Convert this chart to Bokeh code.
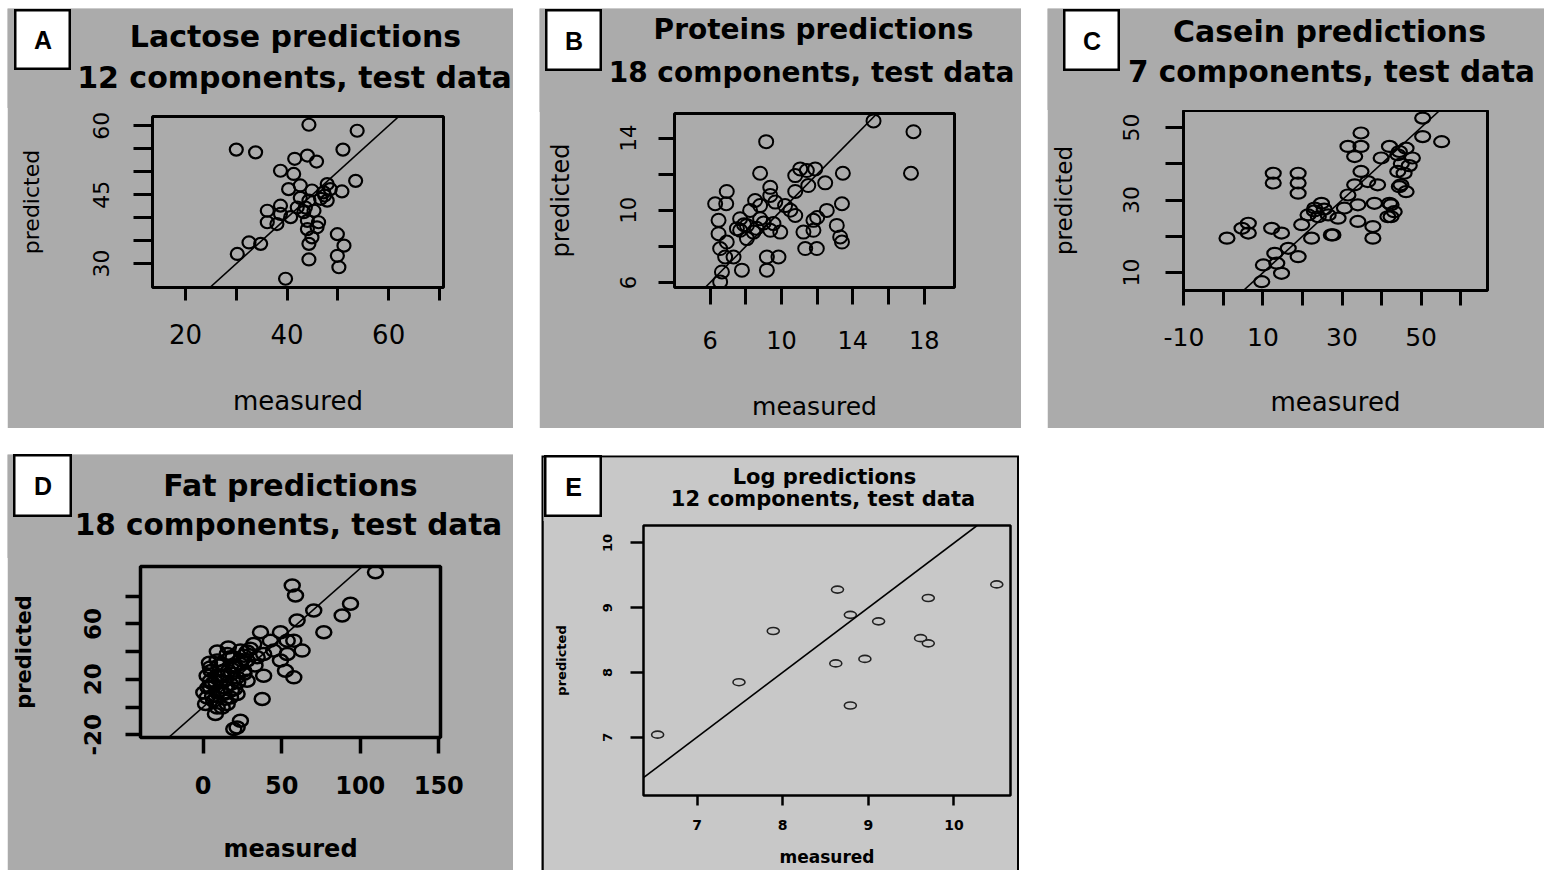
from bokeh.plotting import figure
from bokeh.models import Range1d, FixedTicker, Label, Slope
from bokeh.embed import file_html
from bokeh.resources import INLINE

# ---------------- data: measured vs predicted on the test set ----------------
lactose_measured = [44.3, 53.8, 30.0, 33.8, 51.0, 41.5, 44.0, 45.8, 38.7, 41.3, 53.5, 40.3,
                    42.6, 47.9, 50.8, 47.2, 44.9, 46.6, 44.3, 38.7, 36.1, 38.7, 40.7, 43.3,
                    36.1, 38.0, 44.0, 46.2, 44.0, 44.9, 49.9, 44.3, 51.2, 32.5, 34.8, 30.2,
                    44.3, 49.9, 50.2, 39.7, 47.4, 47.9, 42.0, 43.6, 45.3, 45.9, 48.5, 42.6]
lactose_predicted = [60.2, 58.9, 54.8, 54.2, 54.8, 52.8, 53.5, 52.2, 50.2, 49.5, 48.0, 46.2,
                     47.0, 47.3, 45.7, 45.5, 45.9, 44.1, 43.7, 42.6, 41.5, 40.8, 40.1, 41.2,
                     39.0, 38.6, 39.3, 39.0, 37.5, 35.7, 36.4, 34.3, 33.9, 34.6, 34.3, 32.1,
                     30.9, 31.7, 29.2, 26.7, 44.8, 43.7, 42.2, 42.2, 41.5, 37.9, 46.2, 44.3]

protein_measured = [15.16, 17.4, 9.14, 8.8, 13.44, 17.26, 10.77, 11.42, 11.89, 12.45, 11.5, 9.37,
                    10.77, 6.93, 6.28, 6.9, 8.52, 8.8, 9.65, 10.2, 13.39, 12.54, 10.77, 8.24,
                    6.47, 7.68, 8.8, 9.55, 11.79, 6.47, 7.68, 8.43, 9.37, 9.93, 11.23, 11.79,
                    13.1, 13.29, 13.39, 6.93, 8.06, 11.33, 11.98, 6.84, 7.31, 9.18, 9.83, 7.78,
                    9.18, 6.66, 6.56, 7.5, 8.06, 9.37, 11.05, 6.56, 7.9, 8.6, 9.0, 12.0, 10.5]
protein_predicted = [14.95, 14.35, 13.8, 12.05, 12.05, 12.05, 11.92, 12.2, 12.29, 11.52, 11.37, 11.27,
                     11.04, 11.04, 10.36, 10.36, 10.54, 10.26, 10.45, 10.26, 10.36, 9.99, 9.71, 9.99,
                     9.44, 9.53, 9.53, 9.26, 9.44, 8.7, 8.89, 8.79, 8.89, 8.79, 8.79, 8.89,
                     9.16, 8.52, 8.24, 8.24, 8.43, 7.88, 7.88, 7.41, 7.41, 7.41, 7.41, 6.68,
                     6.68, 6.58, 6.03, 8.98, 9.16, 10.82, 12.29, 7.88, 9.2, 9.0, 9.3, 9.6, 10.0]

casein_measured = [34.8, 31.5, 34.8, 33.2, 42.0, 39.9, 44.1, 46.2, 12.6, 12.6, 18.9, 18.9,
                   18.9, 34.8, 36.5, 33.2, 39.0, 44.1, 44.9, 31.5, 34.0, 30.6, 38.2, 42.4,
                   43.2, 41.6, 24.8, 21.4, 24.0, 26.5, 29.0, 34.0, 37.8, 37.8, 19.8, 22.3,
                   27.7, 0.9, 6.3, 6.3, 12.2, 14.7, 16.4, 18.9, 13.0, 10.1, 13.5, 14.7,
                   9.7, 4.7, 23.1, 50.4, 50.4, 55.2, 47.8, 44.5, 45.7, 46.2, 44.5, 42.0,
                   42.4, 27.3, 23.0, 25.5, 45.0, 47.0]
casein_predicted = [48.5, 44.8, 44.8, 42.0, 44.8, 41.6, 42.5, 44.3, 37.4, 34.7, 37.4, 34.7,
                    31.9, 37.9, 35.1, 34.2, 34.2, 37.9, 34.2, 31.4, 28.7, 27.8, 29.1, 28.7,
                    26.8, 25.4, 29.1, 25.9, 25.4, 25.9, 25.0, 24.1, 22.7, 19.5, 23.2, 19.5,
                    20.4, 19.5, 23.6, 20.9, 22.2, 20.9, 16.7, 14.4, 15.3, 12.1, 12.6, 9.8,
                    7.5, 22.2, 27.8, 52.6, 47.5, 46.1, 41.6, 43.4, 37.4, 32.3, 33.7, 29.1,
                    25.4, 20.4, 27.0, 27.5, 40.0, 39.5]

fat_measured = [109.7, 56.7, 58.8, 93.8, 88.5, 70.4, 59.8, 76.8, 36.5, 49.2, 53.5, 63.0,
                38.5, 23.7, 17.4, 49.2, 38.5, 57.7, 52.4, 4.6, 13.1, 4.6, 21.6, 8.9,
                2.5, 17.4, 12.1, 37.6, 7.8, 23.7, 21.6, 8.9, 15.3, 19.5, 23.7, 28.0,
                2.5, 11.0, 17.4, 4.6, 13.1, 21.6, 0.4, 6.7, 15.3, 1.5, 32.2, 42.8,
                44.9, 53.5, 57.7, 34.4, 25.8, 28.0, 8.9, 19.5, 12.0, 18.0, 9.0, 20.0,
                6.0, 26.0, 16.0, 30.0, 5.0, 14.0, 3.0, 8.0, 12.0, 16.0, 20.0, 24.0,
                10.0, 6.0, 14.0, 18.0, 22.0, 26.0, 9.0, 4.0, 28.0, 33.0, 11.0, 19.0]
fat_predicted = [97.3, 87.7, 80.5, 74.5, 66.0, 69.6, 62.4, 53.9, 53.9, 53.9, 47.9, 40.7,
                 38.3, 40.7, 35.9, 33.5, 22.6, 21.4, 26.2, 28.6, 26.2, 19.0, 21.4, 10.5,
                 6.9, 6.9, -0.3, 5.8, -5.1, -9.9, -14.8, 33.5, 38.3, 28.6, 31.1, 33.5,
                 22.6, 19.0, 16.6, 14.2, 9.4, 9.4, 10.5, 4.5, 2.2, 2.2, 45.5, 47.9,
                 40.7, 38.3, 47.9, 35.9, 26.2, 19.0, -0.3, -15.9, 31.0, 24.0, 23.0, 13.0,
                 17.0, 37.0, 43.0, 42.0, 26.0, 14.0, 14.0, 18.0, 22.0, 26.0, 30.0, 34.0,
                 30.0, 8.0, 6.0, 12.0, 18.0, 24.0, 40.0, 32.0, 40.0, 30.0, 12.0, 36.0]

log_measured = [6.54, 7.49, 7.89, 8.64, 8.62, 8.79, 8.79, 8.96, 9.12, 9.61, 9.70, 9.70, 10.50]
log_predicted = [7.04, 7.85, 8.64, 9.28, 8.14, 8.89, 7.49, 8.21, 8.79, 8.53, 8.45, 9.15, 9.36]

# ---------------- panel texts, data and ticks ----------------
panels = [
    dict(key="A", title=["Lactose predictions", "12 components, test data"],
         x=lactose_measured, y=lactose_predicted,
         xticks=[20, 30, 40, 50, 60, 70], xlabels=[20, 40, 60],
         yticks=[30, 35, 40, 45, 50, 55, 60], ylabels=[30, 45, 60]),
    dict(key="B", title=["Proteins predictions", "18 components, test data"],
         x=protein_measured, y=protein_predicted,
         xticks=[6, 8, 10, 12, 14, 16, 18], xlabels=[6, 10, 14, 18],
         yticks=[6, 8, 10, 12, 14], ylabels=[6, 10, 14]),
    dict(key="C", title=["Casein predictions", "7 components, test data"],
         x=casein_measured, y=casein_predicted,
         xticks=[-10, 0, 10, 20, 30, 40, 50, 60], xlabels=[-10, 10, 30, 50],
         yticks=[10, 20, 30, 40, 50], ylabels=[10, 30, 50]),
    dict(key="D", title=["Fat predictions", "18 components, test data"],
         x=fat_measured, y=fat_predicted,
         xticks=[0, 50, 100, 150], xlabels=[0, 50, 100, 150],
         yticks=[-20, 0, 20, 40, 60, 80], ylabels=[-20, 20, 60]),
    dict(key="E", title=["Log predictions", "12 components, test data"],
         x=log_measured, y=log_predicted,
         xticks=[7, 8, 9, 10], xlabels=[7, 8, 9, 10],
         yticks=[7, 8, 9, 10], ylabels=[7, 8, 9, 10]),
]

# ---------------- page geometry (pixels from the page's top-left corner) ----------------
# origin/size of each panel, plot frame (left, top, right, bottom), height of the title strip,
# letter box (x, y, w, h), axis ranges, tick (out, standoff, font), axis label (font, standoff),
# marker (w, h, line width) and the two title lines (centre x, baseline y, font size)
style = {
    "A": dict(org=(7, 8), size=(506, 420), frame=(152, 116, 443, 287), strip=100,
              box=(14, 9, 57, 61), xr=(13.5, 70.8), yr=(24.8, 62.0), bg="#ababab",
              ow=3, tw=3, weight="normal",
              xt=(13, 23, 26), yt=(19, 24, 22), xlab=(26, 39), ylab=(22, 47),
              mk=(13, 12, 2.2), t1=(295, 46.7, 30), t2=(294, 87.3, 30)),
    "B": dict(org=(539, 8), size=(482, 420), frame=(674, 113, 954, 287), strip=104,
              box=(545, 9, 57, 62), xr=(4.0, 19.7), yr=(5.72, 15.36), bg="#ababab",
              ow=3, tw=3, weight="normal",
              xt=(17, 26, 24), yt=(16, 22, 21), xlab=(25, 40), ylab=(24, 43),
              mk=(14, 13, 2.0), t1=(813, 39.3, 28), t2=(811, 81.7, 28)),
    "C": dict(org=(1047, 8), size=(497, 420), frame=(1182, 110, 1487, 290), strip=102,
              box=(1063, 9, 57, 62), xr=(-10.1, 66.8), yr=(5.06, 54.7), bg="#ababab",
              ow=3, tw=3, weight="normal",
              xt=(15, 22, 25), yt=(18, 26, 22), xlab=(26, 38), ylab=(23, 44),
              mk=(15, 11, 2.2), t1=(1329, 41.7, 30), t2=(1331, 81.7, 29.5)),
    "D": dict(org=(7, 454), size=(506, 416), frame=(140, 566, 440, 737), strip=104,
              box=(13, 454, 59, 63), xr=(-39.9, 151.1), yr=(-22.0, 101.4), bg="#ababab",
              ow=3.5, tw=3.5, weight="bold",
              xt=(16, 22, 24), yt=(15, 24, 23), xlab=(24, 38), ylab=(21, 46),
              mk=(15, 12, 2.5), t1=(290, 496, 30), t2=(288, 535, 29.5)),
    "E": dict(org=(543, 457), size=(474, 413), frame=(643, 525, 1010, 795), strip=64,
              box=(544, 455, 58, 62), xr=(6.375, 10.66), yr=(6.1, 10.27), bg="#c8c8c8",
              ow=2.5, tw=2.5, weight="bold",
              xt=(10, 14, 14), yt=(13, 18, 13), xlab=(17, 14), ylab=(13, 32),
              mk=(12, 7, 1.6), t1=(824, 484, 21), t2=(822.5, 506, 21)),
}

# the label anchor sits this fraction of the font size below the drawn baseline
BASELINE_SHIFT = 0.36


def place(model, x, y):
    """Pin a root element at page position (x, y)."""
    model.styles = {"position": "absolute", "left": f"{x}px", "top": f"{y}px"}
    return model


def blank(w, h, bg, outline=None, ow=0):
    """A bare canvas: its frame fills the whole element, no axes."""
    f = figure(width=w, height=h, x_range=Range1d(0, 1), y_range=Range1d(0, 1),
               output_backend="svg", toolbar_location=None, title=None,
               x_axis_location=None, y_axis_location=None,
               min_border_left=0, min_border_right=0, min_border_top=0, min_border_bottom=0,
               background_fill_color=bg, border_fill_color=bg,
               outline_line_color=outline, outline_line_width=ow)
    f.xgrid.visible = False
    f.ygrid.visible = False
    return f


def make_main(d, s):
    ox, oy = s["org"]
    W, H = s["size"]
    fl, ft, fr, fb = s["frame"]
    p = figure(width=W, height=H, x_range=Range1d(*s["xr"]), y_range=Range1d(*s["yr"]),
               output_backend="svg", toolbar_location=None, title=None,
               min_border_left=fl - ox, min_border_top=ft - oy,
               min_border_right=ox + W - fr, min_border_bottom=oy + H - fb,
               background_fill_color=s["bg"], border_fill_color=s["bg"],
               outline_line_color="black", outline_line_width=s["ow"])
    p.xgrid.visible = False
    p.ygrid.visible = False

    for ax, ticks, shown, (tout, stand, fsize), (lsize, lstand), name in (
            (p.xaxis[0], d["xticks"], d["xlabels"], s["xt"], s["xlab"], "measured"),
            (p.yaxis[0], d["yticks"], d["ylabels"], s["yt"], s["ylab"], "predicted")):
        ax.ticker = FixedTicker(ticks=ticks)
        ax.major_label_overrides = {t: (str(t) if t in shown else "") for t in ticks}
        ax.axis_line_color = None
        ax.major_tick_in = 0
        ax.major_tick_out = tout
        ax.major_tick_line_width = s["tw"]
        ax.major_tick_line_color = "black"
        ax.minor_tick_line_color = None
        ax.major_label_standoff = stand
        ax.major_label_text_font = "DejaVu Sans"
        ax.major_label_text_font_size = f"{fsize}px"
        ax.major_label_text_font_style = s["weight"]
        ax.major_label_text_color = "black"
        ax.axis_label = name
        ax.axis_label_text_font = "DejaVu Sans"
        ax.axis_label_text_font_size = f"{lsize}px"
        ax.axis_label_text_font_style = s["weight"]
        ax.axis_label_text_color = "black"
        ax.axis_label_standoff = lstand
    p.yaxis[0].major_label_orientation = "vertical"

    # reference line: predicted = measured
    p.add_layout(Slope(gradient=1, y_intercept=0, line_color="black", line_width=1.6))

    w, h, lw = s["mk"]
    p.ellipse(x=d["x"], y=d["y"], width=w, height=h, width_units="screen",
              height_units="screen", fill_color=None,
              line_color="black" if d["key"] != "E" else "#222222", line_width=lw)
    return place(p, ox, oy)


def make_strip(d, s):
    ox, oy = s["org"]
    W = s["size"][0]
    S = s["strip"]
    f = blank(W, S, s["bg"])
    for text, (cx, cy, size) in zip(d["title"], (s["t1"], s["t2"])):
        anchor = cy - oy - BASELINE_SHIFT * size
        f.add_layout(Label(x=cx - ox, y=S - anchor, x_units="screen", y_units="screen",
                           text=text, text_align="center", text_baseline="alphabetic",
                           text_font="DejaVu Sans", text_font_style="bold",
                           text_font_size=f"{size}px", text_color="black"))
    return place(f, ox, oy)


def make_box(d, s):
    bx, by, bw, bh = s["box"]
    f = blank(bw, bh, "white", outline="black", ow=4)
    f.add_layout(Label(x=bw / 2, y=bh / 2, x_units="screen", y_units="screen",
                       text=d["key"], text_align="center", text_baseline="middle",
                       text_font="Liberation Sans", text_font_style="bold",
                       text_font_size="25px", text_color="black"))
    return place(f, bx, by)


roots = []
for d in panels:
    s = style[d["key"]]
    if d["key"] == "E":
        # black border around the last panel
        roots.append(place(blank(478, 415, "black"), 541, 455))
    roots.append(make_main(d, s))
    roots.append(make_strip(d, s))
    roots.append(make_box(d, s))

open("out.html", "w").write(file_html(roots, INLINE))
